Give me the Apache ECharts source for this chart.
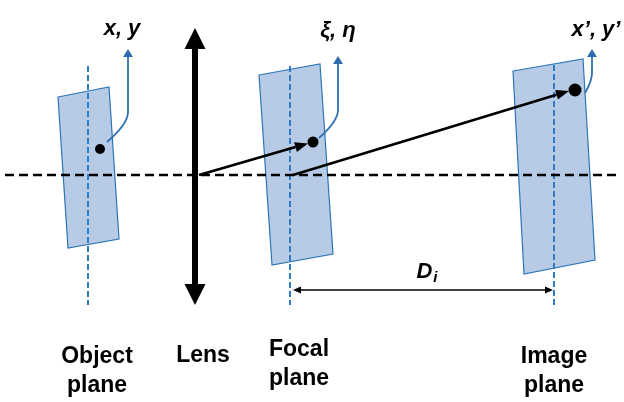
<!DOCTYPE html>
<html>
<head>
<meta charset="utf-8">
<script src="https://cdn.jsdelivr.net/npm/echarts@6/dist/echarts.min.js"></script>
<style>
  html, body { margin: 0; padding: 0; background: #fff; }
  #main { width: 624px; height: 402px; }
</style>
</head>
<body>
<div id="main"></div>
<script>
// diagram units: x 0..624 left to right, y 0..402 top to bottom

// tilted planes, corners clockwise from top-left: x1,y1,x2,y2,x3,y3,x4,y4
var planeCorners = [
  [58, 97, 109, 87, 119, 239, 68, 248],     // object
  [259, 75, 320, 64, 333, 254, 272, 265],   // focal
  [513, 71, 583, 59, 595, 260, 524, 274]    // image
];
// centre lines of the planes: x, top, bottom
var planeAxes = [
  [88, 66, 305],
  [290, 66, 305],
  [554, 65, 305]
];
// optical axis: x from, x to, y
var opticalAxis = [[5, 620, 175]];
// lens: x, top tip, bottom tip
var lens = [[195, 28, 305]];
// points on the planes: x, y
var spots = [[100, 149], [313, 142], [575, 90]];
// rays: from x, from y, tip x, tip y
var rays = [
  [199, 175, 308, 143.5],
  [293, 175, 569, 91]
];
// coordinate arrows: start x,y, bend x,y, tip x,y
var coordArrows = [
  [107, 142, 128, 112, 128, 49],
  [319, 138, 338, 110, 338, 56],
  [585, 93, 592, 73, 592, 49]
];
// distance D_i: x from, x to, y
var distance = [[293, 553, 290]];

var coordLabels = ['x, y', 'ξ, η', 'x’, y’'];
var coordLabelPos = [[122, 29], [338, 31], [596, 30]];
var planeLabels = ['Object\nplane', 'Lens', 'Focal\nplane', 'Image\nplane'];
var planeLabelPos = [[97, 371], [203, 356], [299, 364], [554, 371]];
var distanceLabelPos = [[427, 272]];

var FONT = '"Liberation Sans", Arial, sans-serif';

function head(tip, from, len, half) {
  var dx = tip[0] - from[0], dy = tip[1] - from[1];
  var d = Math.sqrt(dx * dx + dy * dy) || 1;
  var ux = dx / d, uy = dy / d;
  var bx = tip[0] - ux * len, by = tip[1] - uy * len;
  return [tip, [bx - uy * half, by + ux * half], [bx + uy * half, by - ux * half]];
}

var chart = echarts.init(document.getElementById('main'));

var option = {
  animation: false,
  backgroundColor: '#fff',
  grid: { left: 0, right: 0, top: 0, bottom: 0 },
  xAxis: { type: 'value', min: 0, max: 624, show: false },
  yAxis: { type: 'value', min: 0, max: 402, inverse: true, show: false },
  series: [
    {
      name: 'planes',
      type: 'custom',
      data: planeCorners,
      renderItem: function (params, api) {
        var pts = [];
        for (var k = 0; k < 4; k++) pts.push(api.coord([api.value(2 * k), api.value(2 * k + 1)]));
        return {
          type: 'polygon',
          shape: { points: pts },
          style: { fill: '#b7cbe6', stroke: '#2e75b6', lineWidth: 1.2 }
        };
      }
    },
    {
      name: 'plane axes',
      type: 'custom',
      data: planeAxes,
      renderItem: function (params, api) {
        var a = api.coord([api.value(0), api.value(1)]);
        var b = api.coord([api.value(0), api.value(2)]);
        return {
          type: 'line',
          shape: { x1: a[0], y1: a[1], x2: b[0], y2: b[1] },
          style: { stroke: '#2f7bc6', lineWidth: 2, lineDash: [6, 3] }
        };
      }
    },
    {
      name: 'optical axis',
      type: 'custom',
      data: opticalAxis,
      renderItem: function (params, api) {
        var a = api.coord([api.value(0), api.value(2)]);
        var b = api.coord([api.value(1), api.value(2)]);
        return {
          type: 'line',
          shape: { x1: a[0], y1: a[1], x2: b[0], y2: b[1] },
          style: { stroke: '#000', lineWidth: 2.6, lineDash: [9, 5] }
        };
      }
    },
    {
      name: 'lens',
      type: 'custom',
      data: lens,
      renderItem: function (params, api) {
        var top = api.coord([api.value(0), api.value(1)]);
        var bot = api.coord([api.value(0), api.value(2)]);
        return {
          type: 'group',
          children: [
            { type: 'line', shape: { x1: top[0], y1: top[1] + 15, x2: bot[0], y2: bot[1] - 15 },
              style: { stroke: '#000', lineWidth: 6 } },
            { type: 'polygon', shape: { points: head(top, bot, 21, 10.5) }, style: { fill: '#000' } },
            { type: 'polygon', shape: { points: head(bot, top, 21, 10.5) }, style: { fill: '#000' } }
          ]
        };
      }
    },
    {
      name: 'rays',
      type: 'custom',
      data: rays,
      renderItem: function (params, api) {
        var a = api.coord([api.value(0), api.value(1)]);
        var t = api.coord([api.value(2), api.value(3)]);
        var h = head(t, a, 13, 5);
        var bx = (h[1][0] + h[2][0]) / 2, by = (h[1][1] + h[2][1]) / 2;
        return {
          type: 'group',
          children: [
            { type: 'line', shape: { x1: a[0], y1: a[1], x2: bx, y2: by },
              style: { stroke: '#000', lineWidth: 2.6 } },
            { type: 'polygon', shape: { points: h }, style: { fill: '#000' } }
          ]
        };
      }
    },
    {
      name: 'spots',
      type: 'scatter',
      data: spots,
      symbol: 'circle',
      symbolSize: function (v, p) { return [10, 11, 13][p.dataIndex]; },
      itemStyle: { color: '#000', opacity: 1 },
      silent: true
    },
    {
      name: 'coordinate arrows',
      type: 'custom',
      data: coordArrows,
      renderItem: function (params, api) {
        var s = api.coord([api.value(0), api.value(1)]);
        var b = api.coord([api.value(2), api.value(3)]);
        var t = api.coord([api.value(4), api.value(5)]);
        var h = head(t, b, 8, 5);
        var cy = s[1] - 0.6 * (s[1] - b[1]);
        return {
          type: 'group',
          children: [
            { type: 'bezierCurve', shape: { x1: s[0], y1: s[1], x2: b[0], y2: b[1], cpx1: b[0], cpy1: cy },
              style: { stroke: '#2e6fb0', lineWidth: 1.8, fill: null } },
            { type: 'line', shape: { x1: b[0], y1: b[1], x2: t[0], y2: t[1] + 7 },
              style: { stroke: '#2e6fb0', lineWidth: 1.8 } },
            { type: 'polygon', shape: { points: h }, style: { fill: '#2e6fb0' } }
          ]
        };
      }
    },
    {
      name: 'distance',
      type: 'custom',
      data: distance,
      renderItem: function (params, api) {
        var a = api.coord([api.value(0), api.value(2)]);
        var b = api.coord([api.value(1), api.value(2)]);
        return {
          type: 'group',
          children: [
            { type: 'line', shape: { x1: a[0] + 6, y1: a[1], x2: b[0] - 6, y2: b[1] },
              style: { stroke: '#000', lineWidth: 1.5 } },
            { type: 'polygon', shape: { points: head(a, b, 8, 3.5) }, style: { fill: '#000' } },
            { type: 'polygon', shape: { points: head(b, a, 8, 3.5) }, style: { fill: '#000' } }
          ]
        };
      }
    },
    {
      name: 'coordinate labels',
      type: 'custom',
      data: coordLabelPos,
      renderItem: function (params, api) {
        var p = api.coord([api.value(0), api.value(1)]);
        return {
          type: 'text',
          x: p[0], y: p[1],
          style: {
            text: coordLabels[params.dataIndex],
            fill: '#000',
            font: 'italic bold 22px ' + FONT,
            align: 'center', verticalAlign: 'middle'
          }
        };
      }
    },
    {
      name: 'plane labels',
      type: 'custom',
      data: planeLabelPos,
      renderItem: function (params, api) {
        var p = api.coord([api.value(0), api.value(1)]);
        return {
          type: 'text',
          x: p[0], y: p[1],
          style: {
            text: planeLabels[params.dataIndex],
            fill: '#000',
            font: 'bold 23px ' + FONT,
            lineHeight: 29,
            align: 'center', verticalAlign: 'middle'
          }
        };
      }
    },
    {
      name: 'distance label',
      type: 'custom',
      data: distanceLabelPos,
      renderItem: function (params, api) {
        var p = api.coord([api.value(0), api.value(1)]);
        return {
          type: 'text',
          x: p[0], y: p[1],
          style: {
            text: '{d|D}{i|i}',
            align: 'center', verticalAlign: 'middle',
            rich: {
              d: { fill: '#000', fontFamily: FONT, fontStyle: 'italic', fontWeight: 'bold', fontSize: 22, verticalAlign: 'middle' },
              i: { fill: '#000', fontFamily: FONT, fontStyle: 'italic', fontWeight: 'bold', fontSize: 15, padding: [12, 0, 0, 1] }
            }
          }
        };
      }
    }
  ]
};

chart.setOption(option);
</script>
</body>
</html>
